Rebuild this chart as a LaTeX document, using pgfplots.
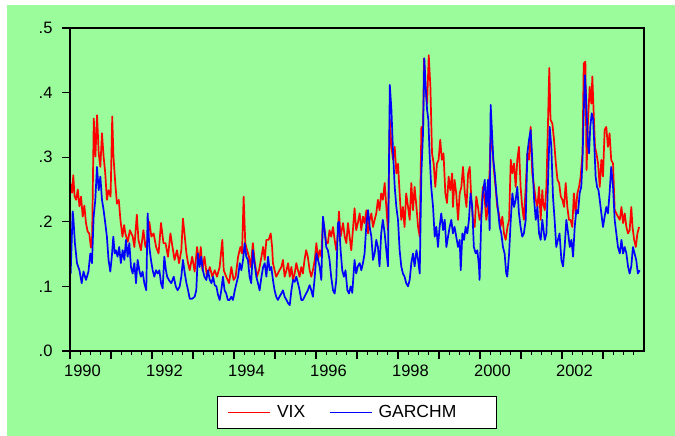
\documentclass[border=0pt]{standalone}
\usepackage{pgfplots}
\usepackage{pgfplotstable}
\pgfplotsset{compat=1.18}
\usepackage{fontspec}
\setmainfont{Liberation Sans}
\definecolor{bggreen}{RGB}{155,252,155}

\pgfplotstableread{
x y
1990.02 0.259
1990.05 0.245
1990.08 0.272
1990.11 0.240
1990.15 0.234
1990.19 0.250
1990.23 0.224
1990.27 0.239
1990.31 0.208
1990.35 0.225
1990.39 0.198
1990.43 0.185
1990.47 0.182
1990.51 0.160
1990.54 0.177
1990.58 0.360
1990.62 0.301
1990.66 0.365
1990.70 0.306
1990.74 0.285
1990.78 0.337
1990.82 0.301
1990.86 0.275
1990.90 0.234
1990.94 0.249
1990.99 0.239
1991.03 0.363
1991.06 0.301
1991.105 0.259
1991.145 0.228
1991.19 0.234
1991.23 0.203
1991.28 0.177
1991.32 0.195
1991.35 0.182
1991.41 0.169
1991.46 0.187
1991.53 0.177
1991.57 0.161
1991.63 0.211
1991.67 0.172
1991.73 0.156
1991.79 0.187
1991.84 0.161
1991.89 0.172
1991.935 0.200
1991.985 0.177
1992.04 0.182
1992.10 0.161
1992.16 0.151
1992.22 0.198
1992.28 0.167
1992.33 0.167
1992.39 0.146
1992.45 0.182
1992.50 0.161
1992.55 0.141
1992.61 0.156
1992.66 0.136
1992.715 0.156
1992.755 0.205
1992.80 0.177
1992.84 0.151
1992.88 0.136
1992.92 0.125
1992.98 0.146
1993.04 0.123
1993.10 0.161
1993.15 0.136
1993.19 0.161
1993.23 0.125
1993.28 0.146
1993.34 0.115
1993.41 0.130
1993.47 0.115
1993.53 0.125
1993.585 0.115
1993.65 0.130
1993.715 0.172
1993.75 0.125
1993.81 0.115
1993.88 0.105
1993.935 0.130
1993.99 0.110
1994.04 0.115
1994.10 0.146
1994.155 0.161
1994.195 0.151
1994.235 0.239
1994.275 0.167
1994.32 0.156
1994.365 0.146
1994.41 0.130
1994.46 0.167
1994.50 0.141
1994.56 0.115
1994.61 0.125
1994.67 0.146
1994.71 0.161
1994.75 0.141
1994.79 0.172
1994.845 0.172
1994.895 0.182
1994.93 0.161
1994.95 0.136
1994.99 0.125
1995.03 0.115
1995.07 0.120
1995.11 0.125
1995.155 0.130
1995.195 0.141
1995.235 0.115
1995.28 0.125
1995.32 0.136
1995.36 0.115
1995.40 0.130
1995.44 0.110
1995.48 0.120
1995.52 0.136
1995.56 0.125
1995.60 0.115
1995.64 0.130
1995.68 0.120
1995.72 0.141
1995.76 0.156
1995.80 0.146
1995.845 0.125
1995.885 0.115
1995.925 0.125
1995.97 0.141
1996.01 0.167
1996.05 0.141
1996.09 0.156
1996.13 0.146
1996.17 0.203
1996.21 0.187
1996.25 0.167
1996.29 0.167
1996.33 0.187
1996.37 0.177
1996.415 0.192
1996.455 0.172
1996.495 0.156
1996.535 0.182
1996.56 0.216
1996.60 0.177
1996.66 0.198
1996.70 0.177
1996.74 0.167
1996.78 0.198
1996.82 0.177
1996.86 0.156
1996.90 0.187
1996.94 0.221
1996.98 0.187
1997.02 0.198
1997.065 0.213
1997.105 0.187
1997.145 0.208
1997.185 0.198
1997.23 0.218
1997.27 0.182
1997.31 0.203
1997.35 0.213
1997.39 0.192
1997.43 0.203
1997.47 0.213
1997.51 0.234
1997.55 0.218
1997.59 0.244
1997.63 0.234
1997.675 0.260
1997.715 0.223
1997.755 0.187
1997.80 0.358
1997.84 0.316
1997.88 0.296
1997.92 0.316
1997.96 0.275
1998.00 0.290
1998.04 0.244
1998.08 0.203
1998.12 0.223
1998.16 0.192
1998.20 0.244
1998.245 0.223
1998.285 0.203
1998.325 0.260
1998.365 0.218
1998.405 0.254
1998.45 0.223
1998.49 0.192
1998.53 0.177
1998.57 0.347
1998.61 0.332
1998.634 0.453
1998.666 0.409
1998.71 0.383
1998.75 0.458
1998.79 0.409
1998.83 0.306
1998.87 0.290
1998.91 0.254
1998.95 0.290
1998.99 0.296
1999.03 0.327
1999.07 0.296
1999.11 0.306
1999.155 0.244
1999.195 0.229
1999.235 0.270
1999.275 0.249
1999.32 0.275
1999.34 0.223
1999.38 0.265
1999.42 0.244
1999.465 0.203
1999.505 0.244
1999.545 0.254
1999.585 0.285
1999.63 0.244
1999.67 0.223
1999.71 0.275
1999.75 0.285
1999.79 0.234
1999.83 0.203
1999.87 0.192
1999.91 0.239
1999.95 0.223
1999.99 0.203
2000.03 0.213
2000.07 0.254
2000.115 0.234
2000.155 0.203
2000.195 0.223
2000.235 0.280
2000.26 0.334
2000.30 0.316
2000.34 0.280
2000.38 0.254
2000.42 0.223
2000.46 0.213
2000.50 0.192
2000.545 0.208
2000.585 0.182
2000.625 0.172
2000.67 0.192
2000.71 0.203
2000.75 0.296
2000.79 0.275
2000.83 0.290
2000.87 0.254
2000.91 0.296
2000.95 0.316
2000.99 0.254
2001.03 0.223
2001.07 0.203
2001.115 0.254
2001.155 0.306
2001.195 0.296
2001.235 0.347
2001.275 0.275
2001.32 0.254
2001.36 0.234
2001.40 0.223
2001.44 0.254
2001.48 0.203
2001.52 0.249
2001.54 0.229
2001.58 0.218
2001.62 0.254
2001.66 0.358
2001.69 0.438
2001.72 0.358
2001.765 0.352
2001.805 0.327
2001.85 0.290
2001.89 0.265
2001.93 0.260
2001.97 0.239
2002.01 0.234
2002.05 0.223
2002.09 0.260
2002.13 0.223
2002.17 0.203
2002.21 0.203
2002.25 0.192
2002.29 0.244
2002.33 0.213
2002.375 0.244
2002.415 0.254
2002.455 0.270
2002.50 0.306
2002.53 0.445
2002.57 0.448
2002.60 0.280
2002.635 0.358
2002.675 0.409
2002.715 0.383
2002.74 0.425
2002.77 0.373
2002.805 0.316
2002.84 0.306
2002.88 0.290
2002.92 0.254
2002.96 0.296
2003.00 0.270
2003.04 0.342
2003.08 0.347
2003.12 0.316
2003.16 0.337
2003.20 0.296
2003.245 0.290
2003.285 0.218
2003.325 0.213
2003.365 0.208
2003.41 0.203
2003.45 0.223
2003.49 0.198
2003.53 0.213
2003.57 0.192
2003.61 0.182
2003.65 0.187
2003.69 0.223
2003.72 0.192
2003.76 0.172
2003.80 0.161
2003.84 0.182
2003.88 0.192
}\vixdata

\pgfplotstableread{
x y
1990.016 0.120
1990.065 0.216
1990.08 0.208
1990.12 0.167
1990.17 0.136
1990.23 0.125
1990.285 0.105
1990.33 0.123
1990.39 0.110
1990.45 0.123
1990.495 0.151
1990.536 0.136
1990.577 0.208
1990.617 0.234
1990.658 0.285
1990.70 0.249
1990.74 0.270
1990.78 0.234
1990.82 0.218
1990.86 0.198
1990.90 0.177
1990.94 0.141
1990.983 0.123
1991.02 0.146
1991.056 0.177
1991.09 0.151
1991.12 0.156
1991.16 0.146
1991.20 0.161
1991.24 0.136
1991.284 0.156
1991.325 0.141
1991.365 0.172
1991.406 0.146
1991.447 0.167
1991.487 0.130
1991.528 0.120
1991.57 0.136
1991.61 0.105
1991.65 0.141
1991.69 0.125
1991.73 0.115
1991.77 0.123
1991.813 0.105
1991.86 0.094
1991.894 0.213
1991.935 0.161
1991.975 0.141
1992.016 0.125
1992.057 0.115
1992.097 0.125
1992.138 0.120
1992.18 0.125
1992.22 0.105
1992.26 0.097
1992.30 0.146
1992.34 0.125
1992.37 0.115
1992.41 0.110
1992.47 0.105
1992.53 0.115
1992.58 0.100
1992.625 0.094
1992.675 0.100
1992.715 0.115
1992.755 0.141
1992.80 0.120
1992.84 0.105
1992.88 0.094
1992.92 0.081
1992.98 0.081
1993.04 0.084
1993.08 0.094
1993.12 0.151
1993.16 0.130
1993.20 0.146
1993.24 0.125
1993.28 0.115
1993.325 0.110
1993.365 0.125
1993.41 0.110
1993.45 0.105
1993.49 0.115
1993.53 0.102
1993.57 0.100
1993.61 0.087
1993.65 0.079
1993.69 0.094
1993.73 0.115
1993.77 0.094
1993.81 0.089
1993.85 0.079
1993.89 0.079
1993.935 0.084
1993.975 0.079
1994.02 0.094
1994.06 0.105
1994.10 0.115
1994.14 0.136
1994.18 0.125
1994.22 0.141
1994.26 0.167
1994.30 0.146
1994.34 0.141
1994.38 0.115
1994.42 0.105
1994.46 0.156
1994.50 0.136
1994.545 0.115
1994.585 0.105
1994.625 0.094
1994.67 0.115
1994.71 0.130
1994.75 0.136
1994.79 0.115
1994.83 0.146
1994.87 0.125
1994.91 0.130
1994.95 0.110
1994.99 0.094
1995.03 0.084
1995.07 0.079
1995.11 0.084
1995.155 0.089
1995.195 0.094
1995.235 0.084
1995.28 0.079
1995.32 0.074
1995.36 0.071
1995.40 0.094
1995.44 0.110
1995.48 0.107
1995.52 0.115
1995.56 0.105
1995.60 0.094
1995.64 0.079
1995.68 0.079
1995.72 0.084
1995.76 0.089
1995.80 0.094
1995.845 0.102
1995.885 0.094
1995.925 0.084
1995.97 0.115
1996.01 0.151
1996.05 0.141
1996.09 0.130
1996.13 0.110
1996.17 0.208
1996.21 0.187
1996.25 0.161
1996.29 0.156
1996.33 0.141
1996.37 0.115
1996.415 0.094
1996.455 0.089
1996.495 0.110
1996.535 0.198
1996.56 0.200
1996.60 0.156
1996.64 0.125
1996.68 0.115
1996.72 0.125
1996.765 0.094
1996.805 0.089
1996.845 0.100
1996.885 0.090
1996.94 0.141
1996.98 0.120
1997.02 0.131
1997.065 0.136
1997.105 0.125
1997.145 0.136
1997.185 0.151
1997.23 0.198
1997.27 0.218
1997.31 0.192
1997.35 0.177
1997.39 0.141
1997.43 0.151
1997.47 0.172
1997.51 0.161
1997.55 0.131
1997.59 0.182
1997.63 0.203
1997.675 0.182
1997.715 0.156
1997.755 0.131
1997.80 0.412
1997.84 0.373
1997.88 0.306
1997.92 0.254
1997.96 0.223
1998.00 0.203
1998.04 0.156
1998.08 0.131
1998.12 0.120
1998.16 0.115
1998.20 0.105
1998.245 0.100
1998.285 0.110
1998.325 0.136
1998.365 0.151
1998.405 0.131
1998.45 0.156
1998.49 0.141
1998.53 0.120
1998.57 0.275
1998.61 0.337
1998.642 0.453
1998.675 0.409
1998.71 0.373
1998.74 0.358
1998.77 0.306
1998.81 0.254
1998.855 0.223
1998.895 0.177
1998.935 0.192
1998.975 0.161
1999.015 0.192
1999.055 0.213
1999.10 0.187
1999.14 0.203
1999.18 0.161
1999.22 0.177
1999.26 0.192
1999.30 0.203
1999.34 0.182
1999.38 0.192
1999.42 0.177
1999.465 0.161
1999.505 0.172
1999.53 0.125
1999.57 0.182
1999.61 0.172
1999.65 0.192
1999.69 0.182
1999.73 0.203
1999.77 0.244
1999.81 0.223
1999.85 0.161
1999.895 0.151
1999.935 0.156
1999.975 0.131
1999.99 0.110
2000.03 0.203
2000.07 0.244
2000.115 0.265
2000.155 0.223
2000.195 0.265
2000.235 0.187
2000.26 0.381
2000.29 0.342
2000.325 0.296
2000.36 0.275
2000.40 0.244
2000.44 0.218
2000.48 0.192
2000.52 0.182
2000.56 0.161
2000.60 0.151
2000.64 0.120
2000.665 0.115
2000.71 0.151
2000.75 0.203
2000.79 0.244
2000.83 0.223
2000.87 0.234
2000.91 0.254
2000.95 0.213
2000.99 0.192
2001.03 0.177
2001.07 0.182
2001.115 0.203
2001.155 0.306
2001.195 0.327
2001.235 0.342
2001.275 0.296
2001.32 0.234
2001.36 0.203
2001.40 0.223
2001.44 0.182
2001.48 0.172
2001.52 0.203
2001.56 0.182
2001.58 0.172
2001.62 0.182
2001.66 0.265
2001.70 0.347
2001.74 0.316
2001.78 0.239
2001.82 0.203
2001.86 0.161
2001.90 0.172
2001.94 0.182
2001.985 0.141
2002.025 0.131
2002.065 0.161
2002.106 0.203
2002.15 0.182
2002.19 0.161
2002.23 0.172
2002.27 0.146
2002.31 0.192
2002.35 0.218
2002.39 0.213
2002.43 0.244
2002.47 0.254
2002.50 0.296
2002.53 0.368
2002.56 0.427
2002.594 0.383
2002.63 0.321
2002.66 0.306
2002.69 0.347
2002.725 0.368
2002.76 0.358
2002.79 0.316
2002.82 0.270
2002.855 0.254
2002.89 0.249
2002.92 0.234
2002.96 0.213
2003.00 0.192
2003.04 0.208
2003.08 0.223
2003.12 0.213
2003.16 0.244
2003.20 0.285
2003.245 0.254
2003.285 0.203
2003.325 0.182
2003.365 0.161
2003.41 0.151
2003.45 0.172
2003.49 0.151
2003.53 0.161
2003.57 0.151
2003.61 0.131
2003.65 0.120
2003.69 0.131
2003.73 0.161
2003.77 0.151
2003.81 0.141
2003.85 0.120
2003.895 0.125
}\garchdata

\begin{document}
\begin{tikzpicture}[x=1pt,y=1pt]
\fill[white] (0,0) rectangle (675,-436);
\fill[bggreen] (7,-5) rectangle (675,-436);
\begin{axis}[
  at={(70pt,-351pt)}, anchor=south west,
  scale only axis, width=574pt, height=323pt,
  xmin=1990, xmax=2004, ymin=0, ymax=0.5,
  axis line style={line width=2pt},
  axis on top,
  tick align=outside,
  xtick pos=bottom, ytick pos=left,
  major tick length=8pt, minor tick length=4pt,
  every tick/.style={black, line width=1.3pt},
  xtick={1990,...,2003},
  xticklabels={1990,,1992,,1994,,1996,,1998,,2000,,2002,},
  minor xtick={1990.25,1990.5,1990.75,1991.25,1991.5,1991.75,1992.25,1992.5,1992.75,1993.25,1993.5,1993.75,1994.25,1994.5,1994.75,1995.25,1995.5,1995.75,1996.25,1996.5,1996.75,1997.25,1997.5,1997.75,1998.25,1998.5,1998.75,1999.25,1999.5,1999.75,2000.25,2000.5,2000.75,2001.25,2001.5,2001.75,2002.25,2002.5,2002.75,2003.25,2003.5,2003.75},
  xticklabel style={xshift=12.5pt, yshift=-2pt, font=\fontsize{16.5}{18}\selectfont},
  ytick={0,0.1,0.2,0.3,0.4,0.5},
  yticklabels={.0,.1,.2,.3,.4,.5},
  yticklabel style={xshift=-6pt, font=\fontsize{16.5}{18}\selectfont},
  legend columns=2,
  legend style={at={(0.5,-0.1904)}, anchor=center, draw=black, line width=1pt, fill=white,
    font=\fontsize{17.5}{20}\selectfont, inner xsep=10pt, inner ysep=7pt,
    /tikz/every even column/.append style={column sep=22pt}},
  legend image code/.code={\draw[#1, line width=1pt] (0pt,0pt) -- (42pt,0pt); \path (46pt,0pt);},
]
\addplot[red, line width=1.7pt, line join=round] table[x=x,y=y] {\vixdata};
\addlegendentry{VIX}
\addplot[blue, line width=1.7pt, line join=round] table[x=x,y=y] {\garchdata};
\addlegendentry{GARCHM\rule{28pt}{0pt}}
\end{axis}
\end{tikzpicture}
\end{document}
